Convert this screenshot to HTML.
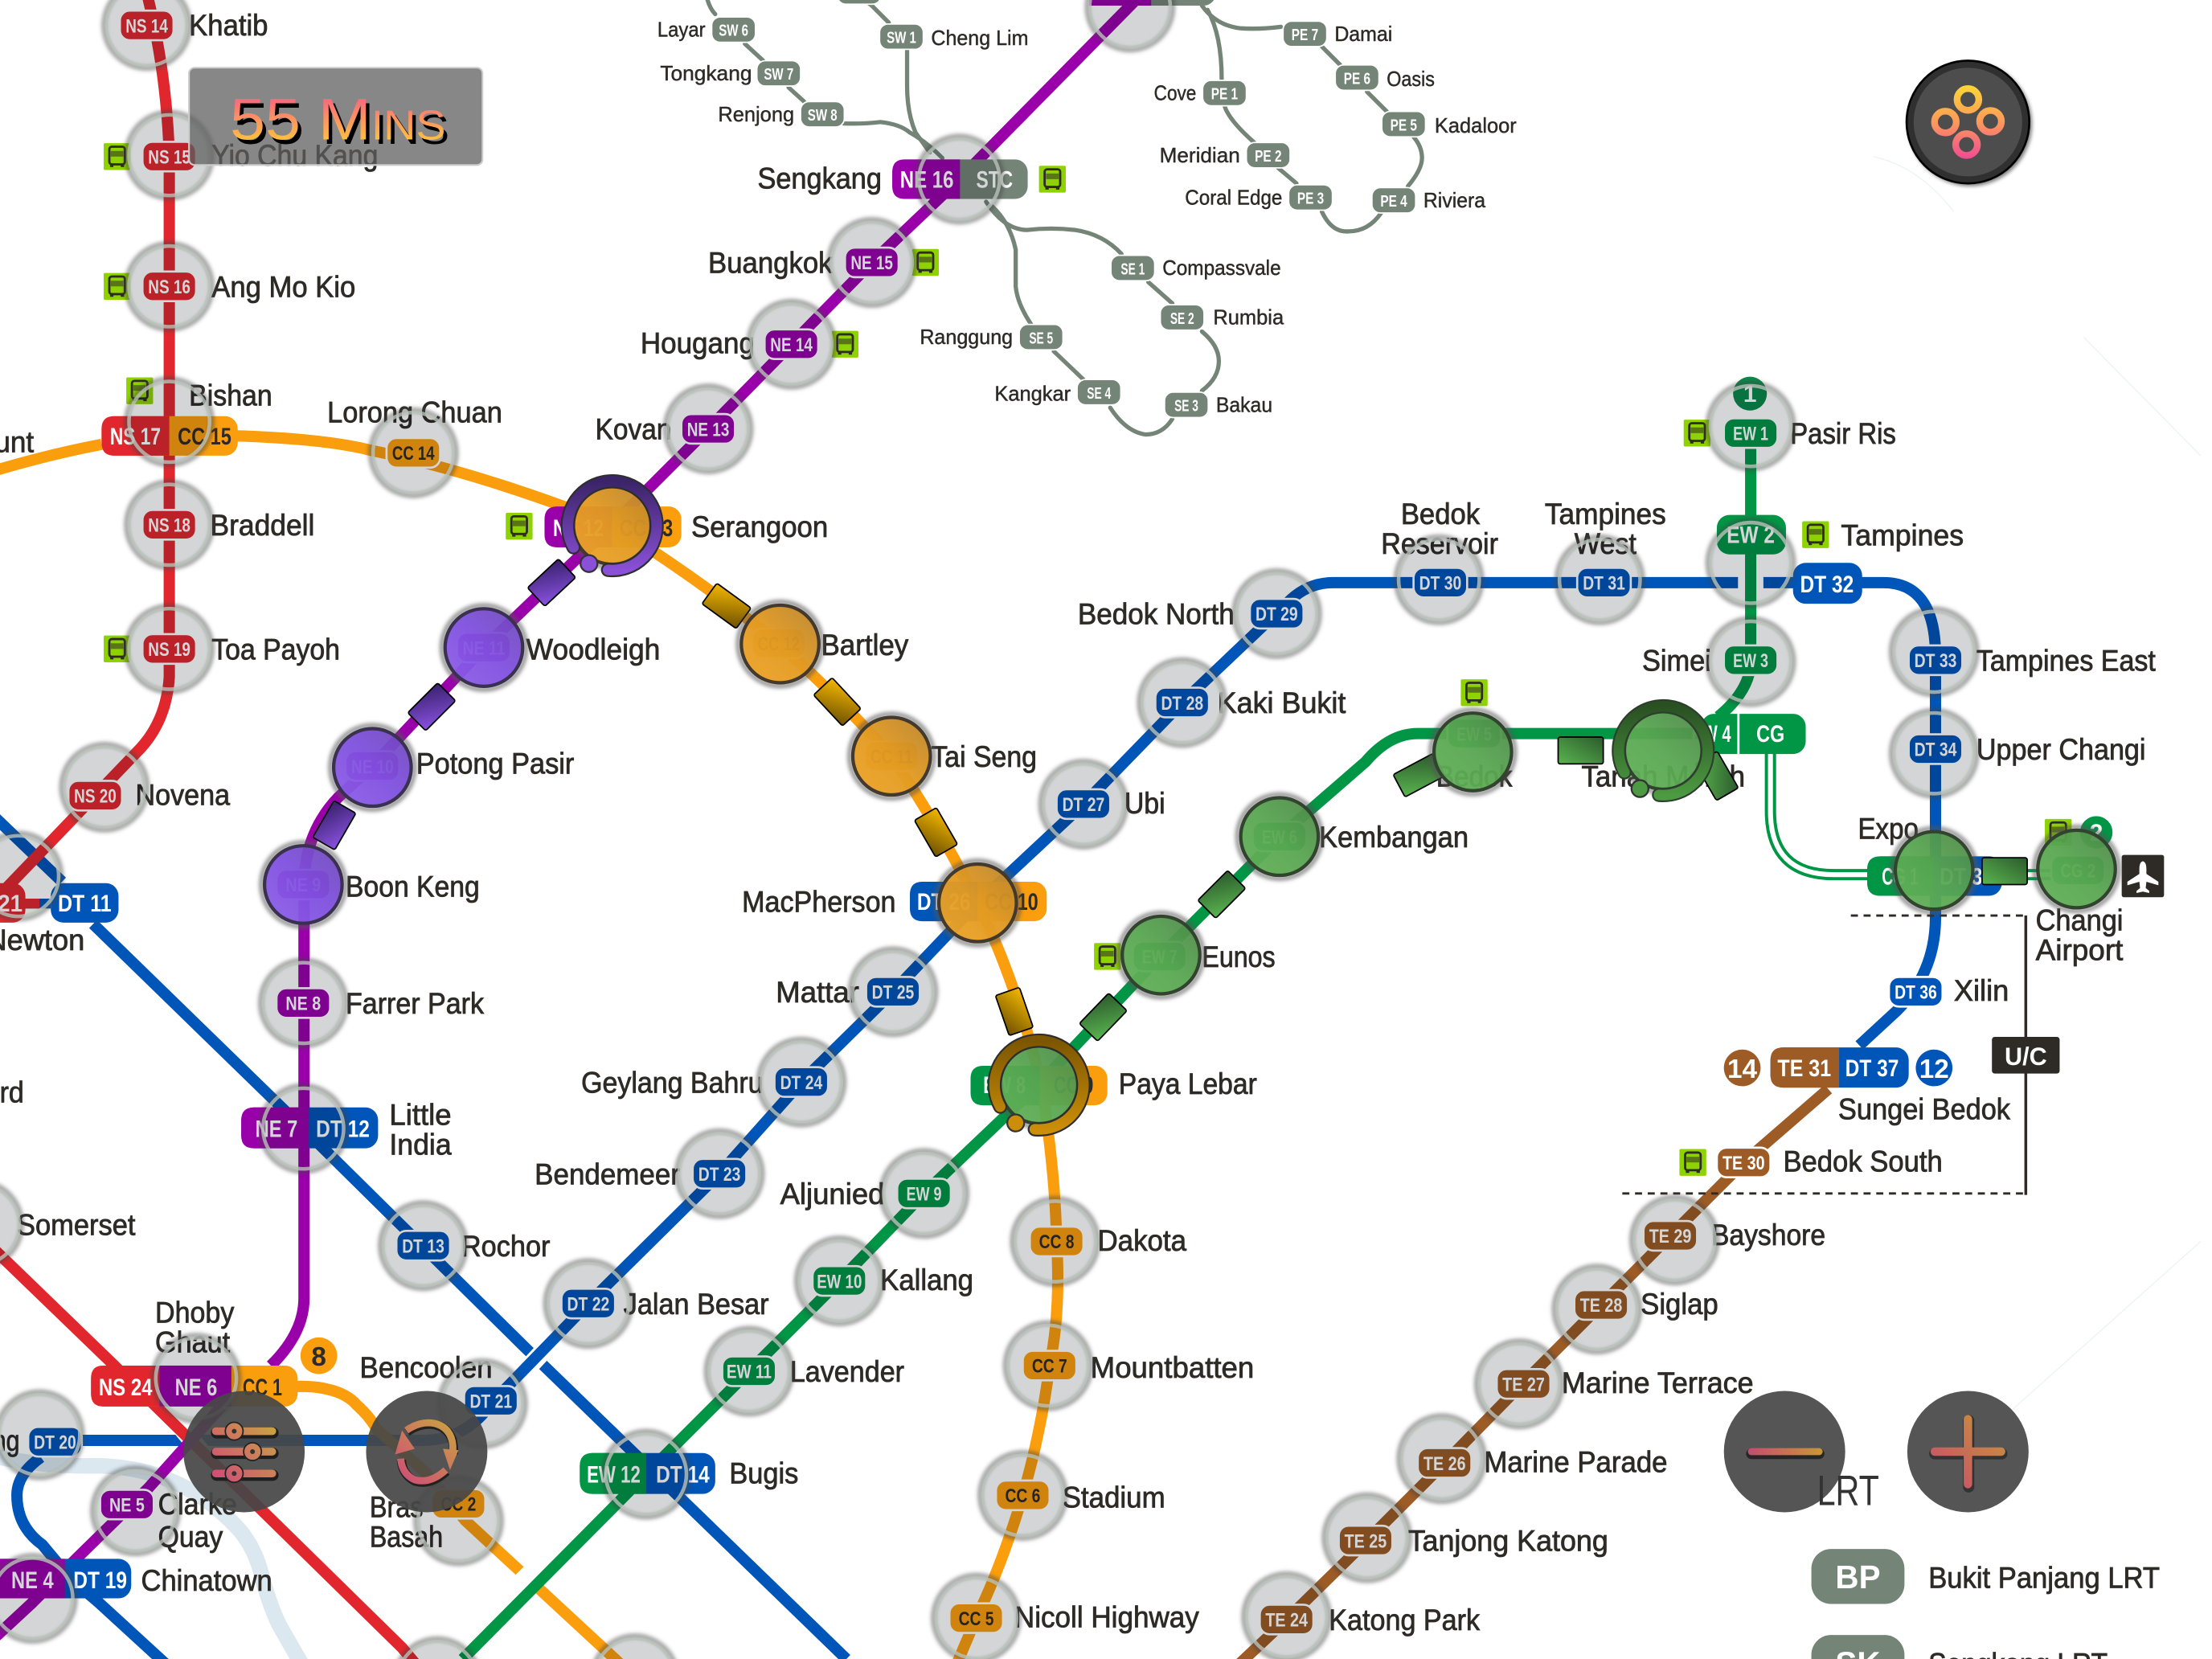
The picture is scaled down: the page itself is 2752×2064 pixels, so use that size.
<!DOCTYPE html>
<html lang="en"><head><meta charset="utf-8"><title>MRT Map</title>
<style>
html,body{margin:0;padding:0;background:#fff;width:2752px;height:2064px;overflow:hidden}
svg{display:block}
text{font-family:"Liberation Sans",sans-serif}
.l{font-size:21px;fill:#2e2a26;stroke:#2e2a26;stroke-width:.45}
.s{font-size:14.5px;fill:#2e2a26;stroke:#2e2a26;stroke-width:.25}
.w{font-size:13.5px;fill:#fff;text-anchor:middle;font-weight:700}
.k{font-size:13.5px;fill:#2e2a26;text-anchor:middle;font-weight:700}
.W{font-size:17px;fill:#fff;text-anchor:middle;font-weight:700}
.K{font-size:17px;fill:#2e2a26;text-anchor:middle;font-weight:700}
.v{font-size:11.5px;fill:#fff;text-anchor:middle;font-weight:700}
.ln{fill:none;stroke-width:8;stroke-linejoin:round}
.lr{fill:none;stroke:#748477;stroke-width:3;stroke-linecap:round}
</style></head><body>
<svg xmlns="http://www.w3.org/2000/svg" width="2752" height="2064" viewBox="0 0 1568 1176">
<defs>
<filter id="b" x="-30%" y="-30%" width="160%" height="160%"><feGaussianBlur stdDeviation="1.3"/></filter>
<linearGradient id="go" x1="0" y1="1" x2="1" y2="0"><stop offset="0" stop-color="#eea528"/><stop offset=".5" stop-color="#e29a22"/><stop offset="1" stop-color="#b98430"/></linearGradient>
<linearGradient id="gp" x1="0" y1="1" x2="1" y2="0"><stop offset="0" stop-color="#8d5fe8"/><stop offset=".5" stop-color="#8050e0"/><stop offset="1" stop-color="#6f4ab8"/></linearGradient>
<linearGradient id="gg" x1="0" y1="1" x2="1" y2="0"><stop offset="0" stop-color="#63b258"/><stop offset=".5" stop-color="#58a651"/><stop offset="1" stop-color="#4f884a"/></linearGradient>
<linearGradient id="rp" x1="0" y1="0" x2="0" y2="1"><stop offset="0" stop-color="#3b2468"/><stop offset="1" stop-color="#8a50d8"/></linearGradient>
<linearGradient id="ry" x1="0" y1="0" x2="0" y2="1"><stop offset="0" stop-color="#7c5600"/><stop offset="1" stop-color="#cc8e08"/></linearGradient>
<linearGradient id="rn" x1="0" y1="0" x2="0" y2="1"><stop offset="0" stop-color="#2a5022"/><stop offset="1" stop-color="#4c9a42"/></linearGradient>
<linearGradient id="to" x1="0" y1="0" x2="1" y2="1"><stop offset="0" stop-color="#f5b900"/><stop offset="1" stop-color="#6e5000"/></linearGradient>
<linearGradient id="tg" x1="0" y1="1" x2="1" y2="0"><stop offset="0" stop-color="#5ab550"/><stop offset="1" stop-color="#2c5a2c"/></linearGradient>
<linearGradient id="tp" x1="0" y1="1" x2="1" y2="0"><stop offset="0" stop-color="#8a52e0"/><stop offset="1" stop-color="#38206c"/></linearGradient>
<linearGradient id="tt" gradientUnits="userSpaceOnUse" x1="0" y1="66" x2="0" y2="100"><stop offset="0" stop-color="#f85c88"/><stop offset="1" stop-color="#ffc23e"/></linearGradient>
<linearGradient id="ic" gradientUnits="userSpaceOnUse" x1="0" y1="60" x2="0" y2="112"><stop offset="0" stop-color="#fdd835"/><stop offset=".5" stop-color="#fd9a5a"/><stop offset="1" stop-color="#f04e90"/></linearGradient>
<linearGradient id="sl" gradientUnits="userSpaceOnUse" x1="150" y1="1050" x2="198" y2="1008"><stop offset="0" stop-color="#d0487a"/><stop offset="1" stop-color="#c8aa40"/></linearGradient>
<linearGradient id="rf" gradientUnits="userSpaceOnUse" x1="282" y1="1052" x2="322" y2="1006"><stop offset="0" stop-color="#cf4a78"/><stop offset="1" stop-color="#c9a540"/></linearGradient>
<linearGradient id="mi" gradientUnits="userSpaceOnUse" x1="1240" y1="0" x2="1290" y2="0"><stop offset="0" stop-color="#c84c6e"/><stop offset="1" stop-color="#c89438"/></linearGradient>
<linearGradient id="pl" gradientUnits="userSpaceOnUse" x1="1372" y1="1052" x2="1418" y2="1006"><stop offset="0" stop-color="#c84c6e"/><stop offset="1" stop-color="#c89438"/></linearGradient>
<rect id="p" x="-19" y="-10.5" width="38" height="21" rx="7" stroke="#fff" stroke-width="1.5"/>
<rect id="q" x="-15.5" y="-9" width="31" height="18" rx="6" stroke="#fff" stroke-width="1"/>
<g id="bus"><rect x="-9.5" y="-9.5" width="19" height="19" rx="1" fill="#8ed200"/><rect x="-5.5" y="-7" width="11" height="12.5" rx="1.8" fill="none" stroke="#2e2a26" stroke-width="1.6"/><rect x="-4.5" y="-4" width="9" height="4" fill="#2e2a26" fill-opacity=".55"/><rect x="-5" y="5.2" width="2.4" height="2.2" fill="#2e2a26"/><rect x="2.6" y="5.2" width="2.4" height="2.2" fill="#2e2a26"/></g>
<g id="c"><circle r="30.5" fill="none" stroke="#444" stroke-opacity=".5" stroke-width="3.2" filter="url(#b)"/><circle r="30" fill="#00050f" fill-opacity=".17"/><circle r="28.6" fill="none" stroke="#bcc5bc" stroke-opacity=".78" stroke-width="2.6"/></g>
<g id="co"><circle r="29.8" fill="none" stroke="#555" stroke-opacity=".6" stroke-width="3.4" filter="url(#b)"/><circle r="27.5" fill="url(#go)" fill-opacity=".96" stroke="#43392c" stroke-width="2.4"/></g>
<g id="cp"><circle r="29.8" fill="none" stroke="#555" stroke-opacity=".6" stroke-width="3.4" filter="url(#b)"/><circle r="27.5" fill="url(#gp)" fill-opacity=".95" stroke="#3a304f" stroke-width="2.4"/></g>
<g id="cg"><circle r="29.8" fill="none" stroke="#555" stroke-opacity=".6" stroke-width="3.4" filter="url(#b)"/><circle r="27.5" fill="url(#gg)" fill-opacity=".95" stroke="#32432f" stroke-width="2.4"/></g>
<path id="arc" d="M-3 31.5A31.5 31.5 0 1 0-27.5 15.5" fill="none" stroke-linecap="round"/>
</defs>

<rect width="1568" height="1176" fill="#fff"/>

<!-- faint background lines -->
<path d="M1328 111Q1360 118 1385 150M1477 239L1560 323M1420 1005L1560 880" fill="none" stroke="#eef4f2" stroke-width=".8"/>

<!-- pale river line -->
<path d="M-5 1032Q30 1040 70 1039Q100 1040 122 1050Q150 1062 171 1086Q182 1100 186 1119Q192 1140 198 1152L214 1180" fill="none" stroke="#dbe8f0" stroke-width="11"/>

<!-- LRT lines -->
<g class="lr">
<path class="lr" d="M598 87.5Q612 88 624 86.5Q638 88 645 94Q656 100 668 112"/>
<path class="lr" d="M643 36V61Q643 80 649 94L659 108"/>
<path class="lr" d="M501 -2Q503 6 507 10M528 31L541 43M559 62L570 72"/>
<path class="lr" d="M630 16L618 4L610 -2"/>
<path class="lr" d="M852 4Q862 18 879 20Q892 21 908 19"/>
<path class="lr" d="M856 7Q866 25 866 56"/>
<path class="lr" d="M868 75Q871 85 889 101M906 119L919 130"/>
<path class="lr" d="M937 150Q944 165 956 164Q970 164 979 151M998 132Q1008 120 1008 112Q1008 104 1002 97M983 79L969 65M950 46L937 33"/>
<path class="lr" d="M699 143Q712 163 728 163Q745 161 762 163Q782 166 795 180M814 200L831 215"/>
<path class="lr" d="M852 235Q864 245 864 256Q864 268 852 277M831 297Q824 308 812 308Q798 306 787 289M768 269L747 249"/>
<path class="lr" d="M731 230Q721 215 720 203V177Q716 158 703 146"/>
</g>

<!-- MRT lines -->
<g class="ln">
<!-- Blue DT -->
<path class="ln" stroke="#0055b8" d="M-5 578L44 625M66 655L215 800L372 955L600 1176"/>
<path d="M396 946L370 974" fill="none" stroke="#fff" stroke-width="13"/>
<path class="ln" stroke="#0055b8" d="M1295 413H945Q928 413 915 425L838 498L768 570L693 640L633 703L568 767L510 832L417 924L349 994Q330 1021 300 1021H28"/>
<path class="ln" stroke="#0055b8" d="M29 1033Q12 1045 12 1060Q12 1082 30 1095L50 1119L70 1136L118 1180"/>
<path class="ln" stroke="#0055b8" d="M1300 413H1335Q1372 413 1372 465V650Q1372 690 1344 717L1318 741"/>
<!-- Red NS -->
<path class="ln" stroke="#e1272d" d="M104 -5Q118 50 120 110V480Q118 510 100 530L4 630"/>
<path d="M127 1010L145 1032" fill="none" stroke="#fff" stroke-width="13"/>
<path class="ln" stroke="#e1272d" d="M-10 880L78 965L285 1168L295 1180"/>
<!-- Orange CC -->
<path class="ln" stroke="#fa9e0d" d="M-5 334Q35 322 72 315M168 309Q230 311 262 319Q340 335 434 372Q495 410 552 456Q595 495 632 536Q665 585 693 640Q720 695 738 768Q748 830 749 880Q752 930 744 968Q738 1015 725 1060Q710 1110 692 1147L678 1180"/>
<path d="M262 1000L276 1018" fill="none" stroke="#fff" stroke-width="13"/>
<path class="ln" stroke="#fa9e0d" d="M205 983Q222 982 233 985Q246 988 253 996Q262 1004 267 1013L302 1044L330 1078L436 1176L445 1185"/>
<!-- Purple NE -->
<path class="ln" stroke="#9900aa" d="M810 -5L680 127L618 186L561 244L502 304L434 372L343 459L264 543L240 565Q216 590 215.5 627V920Q215.5 945 192 968"/>
<path class="ln" stroke="#9900aa" d="M157 997L105 1055L55 1104L23 1136L-5 1162"/>
<!-- Green EW -->
<path d="M1232 413H1250" fill="none" stroke="#fff" stroke-width="11"/>
<path class="ln" stroke="#009645" d="M1241 302V470Q1240 490 1218 508"/>
<path d="M389 1102L361 1130" fill="none" stroke="#fff" stroke-width="13"/>
<path class="ln" stroke="#009645" d="M1210 520H1005Q985 520 968 540L907 593L822 678L737 768L655 846L595 908L531 972L458 1045L328 1176"/>
<!-- Brown TE -->
<path class="ln" stroke="#9d5b25" stroke-width="7" d="M1296 772L1236 824L1184 876L1135 925L1079 981L1024 1037L968 1093L912 1148L878 1180"/>
<!-- CG double -->
<path class="ln" stroke="#009645" d="M1255 530V575Q1255 620 1300 620H1325M1400 620H1475"/>
<path d="M1255 530V575Q1255 620 1300 620H1325M1400 620H1475" fill="none" stroke="#fff" stroke-width="3.5"/>
</g>

<!-- dashed -->
<path d="M1312 649H1436M1150 846H1436" fill="none" stroke="#2e2a26" stroke-width="1.6" stroke-dasharray="5 4"/>
<path d="M1436 649V847" fill="none" stroke="#2e2a26" stroke-width="2"/>
<rect x="1412" y="735" width="48" height="26" rx="2" fill="#2e2a26"/>
<text x="1436" y="755" style="font-size:18px;fill:#fff;text-anchor:middle;font-weight:700" textLength="30" lengthAdjust="spacingAndGlyphs">U/C</text>

<!-- Bus icons -->
<use href="#bus" x="83" y="111"/><use href="#bus" x="83" y="203"/><use href="#bus" x="99" y="277"/><use href="#bus" x="368" y="373"/><use href="#bus" x="83" y="460"/><use href="#bus" x="746" y="127"/><use href="#bus" x="656" y="186"/><use href="#bus" x="599" y="244"/><use href="#bus" x="1045" y="491"/><use href="#bus" x="785" y="678"/><use href="#bus" x="1203" y="307"/><use href="#bus" x="1287" y="379"/><use href="#bus" x="1200" y="824"/><use href="#bus" x="1459" y="590"/>

<!-- Number circles -->
<circle cx="1240.5" cy="279" r="12" fill="#0a8a4a"/><text x="1240.5" y="285" class="W">1</text>
<circle cx="226" cy="961" r="13" fill="#fa9e0d"/><text x="226" y="968" class="K" style="font-size:19px">8</text>
<circle cx="1235" cy="757" r="13" fill="#9d5b25"/><text x="1235" y="764" class="W" style="font-size:19px">14</text>
<circle cx="1371" cy="757" r="13" fill="#0055b8"/><text x="1371" y="764" class="W" style="font-size:19px">12</text>
<circle cx="1486" cy="590" r="11.5" fill="#009645"/><text x="1486" y="596" class="W">2</text>
<rect x="1504" y="606" width="30" height="30" rx="1.5" fill="#2e2a26"/>
<path d="M1519 610.5Q1521.5 611 1521.5 616V619.5L1530 625V627.5L1521.5 625L1521 629.5L1523.5 631.5V633L1519 632L1514.5 633V631.5L1517 629.5L1516.5 625L1508 627.5V625L1516.5 619.5V616Q1516.5 611 1519 610.5Z" fill="#fff"/>

<!-- LRT pills -->
<g fill="#748477">
<use href="#q" x="520" y="21"/><use href="#q" x="552" y="52"/><use href="#q" x="583" y="81"/><use href="#q" x="639" y="26"/><use href="#q" x="609" y="-6"/>
<use href="#q" x="925" y="24"/><use href="#q" x="962" y="55"/><use href="#q" x="995" y="88"/><use href="#q" x="868" y="66"/><use href="#q" x="899" y="110"/><use href="#q" x="929" y="140"/><use href="#q" x="988" y="142"/>
<use href="#q" x="803" y="190"/><use href="#q" x="838" y="225"/><use href="#q" x="841" y="287"/><use href="#q" x="779" y="278"/><use href="#q" x="738" y="239"/>
</g>
<g>
<text class="v" x="520" y="25.5" textLength="21" lengthAdjust="spacingAndGlyphs">SW 6</text>
<text class="v" x="552" y="56.5" textLength="21" lengthAdjust="spacingAndGlyphs">SW 7</text>
<text class="v" x="583" y="85.5" textLength="21" lengthAdjust="spacingAndGlyphs">SW 8</text>
<text class="v" x="639" y="30.5" textLength="21" lengthAdjust="spacingAndGlyphs">SW 1</text>
<text class="v" x="925" y="28.5" textLength="19" lengthAdjust="spacingAndGlyphs">PE 7</text>
<text class="v" x="962" y="59.5" textLength="19" lengthAdjust="spacingAndGlyphs">PE 6</text>
<text class="v" x="995" y="92.5" textLength="19" lengthAdjust="spacingAndGlyphs">PE 5</text>
<text class="v" x="868" y="70.5" textLength="19" lengthAdjust="spacingAndGlyphs">PE 1</text>
<text class="v" x="899" y="114.5" textLength="19" lengthAdjust="spacingAndGlyphs">PE 2</text>
<text class="v" x="929" y="144.5" textLength="19" lengthAdjust="spacingAndGlyphs">PE 3</text>
<text class="v" x="988" y="146.5" textLength="19" lengthAdjust="spacingAndGlyphs">PE 4</text>
<text class="v" x="803" y="194.5" textLength="17" lengthAdjust="spacingAndGlyphs">SE 1</text>
<text class="v" x="838" y="229.5" textLength="17" lengthAdjust="spacingAndGlyphs">SE 2</text>
<text class="v" x="841" y="291.5" textLength="17" lengthAdjust="spacingAndGlyphs">SE 3</text>
<text class="v" x="779" y="282.5" textLength="17" lengthAdjust="spacingAndGlyphs">SE 4</text>
<text class="v" x="738" y="243.5" textLength="17" lengthAdjust="spacingAndGlyphs">SE 5</text>
</g>
<g>
<text class="s" x="466" y="26" textLength="34" lengthAdjust="spacingAndGlyphs">Layar</text>
<text class="s" x="468" y="57" textLength="65" lengthAdjust="spacingAndGlyphs">Tongkang</text>
<text class="s" x="509" y="86" textLength="54" lengthAdjust="spacingAndGlyphs">Renjong</text>
<text class="s" x="660" y="32" textLength="69" lengthAdjust="spacingAndGlyphs">Cheng Lim</text>
<text class="s" x="946" y="29" textLength="41" lengthAdjust="spacingAndGlyphs">Damai</text>
<text class="s" x="983" y="61" textLength="34" lengthAdjust="spacingAndGlyphs">Oasis</text>
<text class="s" x="1017" y="94" textLength="58" lengthAdjust="spacingAndGlyphs">Kadaloor</text>
<text class="s" x="818" y="71" textLength="30" lengthAdjust="spacingAndGlyphs">Cove</text>
<text class="s" x="822" y="115" textLength="57" lengthAdjust="spacingAndGlyphs">Meridian</text>
<text class="s" x="840" y="145" textLength="69" lengthAdjust="spacingAndGlyphs">Coral Edge</text>
<text class="s" x="1009" y="147" textLength="44" lengthAdjust="spacingAndGlyphs">Riviera</text>
<text class="s" x="824" y="195" textLength="84" lengthAdjust="spacingAndGlyphs">Compassvale</text>
<text class="s" x="860" y="230" textLength="50" lengthAdjust="spacingAndGlyphs">Rumbia</text>
<text class="s" x="652" y="244" textLength="66" lengthAdjust="spacingAndGlyphs">Ranggung</text>
<text class="s" x="705" y="284" textLength="54" lengthAdjust="spacingAndGlyphs">Kangkar</text>
<text class="s" x="862" y="292" textLength="40" lengthAdjust="spacingAndGlyphs">Bakau</text>
</g>

<!-- Single pills -->
<g fill="#e1272d"><use href="#p" x="104" y="18"/><use href="#p" x="120" y="111"/><use href="#p" x="120" y="203"/><use href="#p" x="120" y="372"/><use href="#p" x="120" y="460"/><use href="#p" x="67.5" y="564"/></g>
<g fill="#9900aa"><use href="#p" x="502" y="304"/><use href="#p" x="618" y="186"/><use href="#p" x="561" y="244"/><use href="#p" x="215" y="711"/><use href="#p" x="343" y="459"/><use href="#p" x="264" y="543"/><use href="#p" x="215" y="627"/><use href="#p" x="90" y="1066.5"/></g>
<g fill="#0055b8"><use href="#p" x="300" y="883"/><use href="#p" x="417" y="924"/><use href="#p" x="348" y="993"/><use href="#p" x="510" y="832"/><use href="#p" x="568" y="767"/><use href="#p" x="633" y="703"/><use href="#p" x="768" y="570"/><use href="#p" x="838" y="498"/><use href="#p" x="905" y="435"/><use href="#p" x="1021" y="413"/><use href="#p" x="1137" y="413"/><use href="#p" x="1372" y="468"/><use href="#p" x="1372" y="531"/><use href="#p" x="1358" y="703"/><use href="#p" x="39" y="1022"/></g>
<g fill="#fa9e0d"><use href="#p" x="293" y="321"/><use href="#p" x="552" y="456"/><use href="#p" x="632" y="536"/><use href="#p" x="749" y="880"/><use href="#p" x="744" y="968"/><use href="#p" x="725" y="1060"/><use href="#p" x="692" y="1147"/><use href="#p" x="325" y="1066"/></g>
<g fill="#009645"><use href="#p" x="1241" y="307"/><use href="#p" x="1241" y="468"/><use href="#p" x="1045" y="520"/><use href="#p" x="907" y="593"/><use href="#p" x="822" y="678"/><use href="#p" x="655" y="846"/><use href="#p" x="595" y="908"/><use href="#p" x="531" y="972"/><use href="#p" x="1473" y="617"/></g>
<g fill="#9d5b25"><use href="#p" x="1236" y="824"/><use href="#p" x="1184" y="876"/><use href="#p" x="1135" y="925"/><use href="#p" x="1080" y="981"/><use href="#p" x="1024" y="1037"/><use href="#p" x="968" y="1092"/><use href="#p" x="912" y="1148"/></g>

<g>
<text class="w" x="104" y="23" textLength="30" lengthAdjust="spacingAndGlyphs">NS 14</text>
<text class="w" x="120" y="116" textLength="30" lengthAdjust="spacingAndGlyphs">NS 15</text>
<text class="w" x="120" y="208" textLength="30" lengthAdjust="spacingAndGlyphs">NS 16</text>
<text class="w" x="120" y="377" textLength="30" lengthAdjust="spacingAndGlyphs">NS 18</text>
<text class="w" x="120" y="465" textLength="30" lengthAdjust="spacingAndGlyphs">NS 19</text>
<text class="w" x="67.5" y="569" textLength="30" lengthAdjust="spacingAndGlyphs">NS 20</text>
<text class="w" x="502" y="309" textLength="30" lengthAdjust="spacingAndGlyphs">NE 13</text>
<text class="w" x="618" y="191" textLength="30" lengthAdjust="spacingAndGlyphs">NE 15</text>
<text class="w" x="561" y="249" textLength="30" lengthAdjust="spacingAndGlyphs">NE 14</text>
<text class="w" x="215" y="716" textLength="25" lengthAdjust="spacingAndGlyphs">NE 8</text>
<text class="w" x="343" y="464" textLength="30" lengthAdjust="spacingAndGlyphs">NE 11</text>
<text class="w" x="264" y="548" textLength="30" lengthAdjust="spacingAndGlyphs">NE 10</text>
<text class="w" x="215" y="632" textLength="25" lengthAdjust="spacingAndGlyphs">NE 9</text>
<text class="w" x="90" y="1071.5" textLength="25" lengthAdjust="spacingAndGlyphs">NE 5</text>
<text class="w" x="300" y="888" textLength="30" lengthAdjust="spacingAndGlyphs">DT 13</text>
<text class="w" x="417" y="929" textLength="30" lengthAdjust="spacingAndGlyphs">DT 22</text>
<text class="w" x="348" y="998" textLength="30" lengthAdjust="spacingAndGlyphs">DT 21</text>
<text class="w" x="510" y="837" textLength="30" lengthAdjust="spacingAndGlyphs">DT 23</text>
<text class="w" x="568" y="772" textLength="30" lengthAdjust="spacingAndGlyphs">DT 24</text>
<text class="w" x="633" y="708" textLength="30" lengthAdjust="spacingAndGlyphs">DT 25</text>
<text class="w" x="768" y="575" textLength="30" lengthAdjust="spacingAndGlyphs">DT 27</text>
<text class="w" x="838" y="503" textLength="30" lengthAdjust="spacingAndGlyphs">DT 28</text>
<text class="w" x="905" y="440" textLength="30" lengthAdjust="spacingAndGlyphs">DT 29</text>
<text class="w" x="1021" y="418" textLength="30" lengthAdjust="spacingAndGlyphs">DT 30</text>
<text class="w" x="1137" y="418" textLength="30" lengthAdjust="spacingAndGlyphs">DT 31</text>
<text class="w" x="1372" y="473" textLength="30" lengthAdjust="spacingAndGlyphs">DT 33</text>
<text class="w" x="1372" y="536" textLength="30" lengthAdjust="spacingAndGlyphs">DT 34</text>
<text class="w" x="1358" y="708" textLength="30" lengthAdjust="spacingAndGlyphs">DT 36</text>
<text class="w" x="39" y="1027" textLength="30" lengthAdjust="spacingAndGlyphs">DT 20</text>
<text class="k" x="293" y="326" textLength="30" lengthAdjust="spacingAndGlyphs">CC 14</text>
<text class="k" x="552" y="461" textLength="30" lengthAdjust="spacingAndGlyphs">CC 12</text>
<text class="k" x="632" y="541" textLength="30" lengthAdjust="spacingAndGlyphs">CC 11</text>
<text class="k" x="749" y="885" textLength="25" lengthAdjust="spacingAndGlyphs">CC 8</text>
<text class="k" x="744" y="973" textLength="25" lengthAdjust="spacingAndGlyphs">CC 7</text>
<text class="k" x="725" y="1065" textLength="25" lengthAdjust="spacingAndGlyphs">CC 6</text>
<text class="k" x="692" y="1152" textLength="25" lengthAdjust="spacingAndGlyphs">CC 5</text>
<text class="k" x="325" y="1071" textLength="25" lengthAdjust="spacingAndGlyphs">CC 2</text>
<text class="w" x="1241" y="312" textLength="25" lengthAdjust="spacingAndGlyphs">EW 1</text>
<text class="w" x="1241" y="473" textLength="25" lengthAdjust="spacingAndGlyphs">EW 3</text>
<text class="w" x="1045" y="525" textLength="25" lengthAdjust="spacingAndGlyphs">EW 5</text>
<text class="w" x="907" y="598" textLength="25" lengthAdjust="spacingAndGlyphs">EW 6</text>
<text class="w" x="822" y="683" textLength="25" lengthAdjust="spacingAndGlyphs">EW 7</text>
<text class="w" x="655" y="851" textLength="25" lengthAdjust="spacingAndGlyphs">EW 9</text>
<text class="w" x="595" y="913" textLength="32" lengthAdjust="spacingAndGlyphs">EW 10</text>
<text class="w" x="531" y="977" textLength="32" lengthAdjust="spacingAndGlyphs">EW 11</text>
<text class="w" x="1473" y="622" textLength="25" lengthAdjust="spacingAndGlyphs">CG 2</text>
<text class="w" x="1236" y="829" textLength="30" lengthAdjust="spacingAndGlyphs">TE 30</text>
<text class="w" x="1184" y="881" textLength="30" lengthAdjust="spacingAndGlyphs">TE 29</text>
<text class="w" x="1135" y="930" textLength="30" lengthAdjust="spacingAndGlyphs">TE 28</text>
<text class="w" x="1080" y="986" textLength="30" lengthAdjust="spacingAndGlyphs">TE 27</text>
<text class="w" x="1024" y="1042" textLength="30" lengthAdjust="spacingAndGlyphs">TE 26</text>
<text class="w" x="968" y="1097" textLength="30" lengthAdjust="spacingAndGlyphs">TE 25</text>
<text class="w" x="912" y="1153" textLength="30" lengthAdjust="spacingAndGlyphs">TE 24</text>
</g>

<!-- Double pills -->
<g stroke="#fff" stroke-width="0">
<rect x="72" y="295" width="96.5" height="28" rx="9" fill="#fa9e0d"/><path d="M81 295H120V323H81Q72 323 72 314V304Q72 295 81 295Z" fill="#e1272d"/>
<rect x="386" y="359" width="97" height="29" rx="9" fill="#fa9e0d"/><path d="M395 359H434V388H395Q386 388 386 379V368Q386 359 395 359Z" fill="#9900aa"/>
<rect x="632.5" y="113" width="96" height="28" rx="9" fill="#748477"/><path d="M641 113H680.5V141H641Q632.5 141 632.5 132V122Q632.5 113 641 113Z" fill="#9900aa"/>
<rect x="772" y="-24" width="90" height="28" rx="9" fill="#748477"/><rect x="772" y="-24" width="44" height="28" fill="#9900aa"/>
<rect x="645" y="625" width="97" height="28" rx="9" fill="#fa9e0d"/><path d="M654 625H693V653H654Q645 653 645 644V634Q645 625 654 625Z" fill="#0055b8"/>
<rect x="688" y="755.5" width="97" height="28" rx="9" fill="#fa9e0d"/><path d="M697 755.5H737V783.5H697Q688 783.5 688 774.5V764.5Q688 755.5 697 755.5Z" fill="#009645"/>
<rect x="171" y="785" width="97" height="29" rx="9" fill="#0055b8"/><path d="M180 785H219V814H180Q171 814 171 805V794Q171 785 180 785Z" fill="#9900aa"/>
<rect x="64.5" y="968" width="146.5" height="29" rx="9" fill="#fa9e0d"/><path d="M73 968H113V997H73Q64.5 997 64.5 988V977Q64.5 968 73 968Z" fill="#e1272d"/><rect x="113" y="968" width="51" height="29" fill="#9900aa"/>
<rect x="411" y="1030" width="96" height="29" rx="9" fill="#0055b8"/><path d="M420 1030H458V1059H420Q411 1059 411 1050V1039Q411 1030 420 1030Z" fill="#009645"/>
<rect x="-50" y="1105" width="143" height="28" rx="9" fill="#0055b8"/><rect x="-50" y="1105" width="96" height="28" fill="#9900aa"/>
<rect x="36" y="626" width="48" height="28" rx="9" fill="#0055b8"/>
<rect x="18" y="637" width="18" height="7" fill="#0055b8"/><rect x="18" y="637" width="10" height="7" fill="#e1272d"/>
<rect x="-30" y="626" width="48" height="28" rx="9" fill="#e1272d"/>
<rect x="1217" y="365" width="49" height="28" rx="9" fill="#009645"/>
<rect x="1271" y="399" width="49" height="29" rx="9" fill="#0055b8"/>
<rect x="1206" y="506" width="74" height="28.5" rx="9" fill="#009645"/><rect x="1231.5" y="506" width="1.6" height="28.5" fill="#fff"/>
<rect x="1323.6" y="607" width="95.4" height="28" rx="9" fill="#0055b8"/><path d="M1333 607H1371V635H1333Q1323.6 635 1323.6 626V616Q1323.6 607 1333 607Z" fill="#009645"/>
<rect x="1255" y="742.5" width="98" height="28.5" rx="9" fill="#0055b8"/><path d="M1264 742.5H1303.7V771H1264Q1255 771 1255 762V751.5Q1255 742.5 1264 742.5Z" fill="#9d5b25"/>
</g>
<g>
<text class="W" x="96" y="315" textLength="36" lengthAdjust="spacingAndGlyphs">NS 17</text>
<text class="K" x="145" y="315" textLength="38" lengthAdjust="spacingAndGlyphs">CC 15</text>
<text class="W" x="410" y="380" textLength="36" lengthAdjust="spacingAndGlyphs">NE 12</text>
<text class="K" x="458" y="380" textLength="38" lengthAdjust="spacingAndGlyphs">CC 13</text>
<text class="W" x="657" y="133" textLength="38" lengthAdjust="spacingAndGlyphs">NE 16</text>
<text class="W" x="705" y="133" textLength="26" lengthAdjust="spacingAndGlyphs">STC</text>
<text class="W" x="669" y="645" textLength="38" lengthAdjust="spacingAndGlyphs">DT 26</text>
<text class="K" x="717" y="645" textLength="38" lengthAdjust="spacingAndGlyphs">CC 10</text>
<text class="W" x="712" y="775" textLength="30" lengthAdjust="spacingAndGlyphs">EW 8</text>
<text class="K" x="761" y="775" textLength="28" lengthAdjust="spacingAndGlyphs">CC 9</text>
<text class="W" x="196" y="806" textLength="30" lengthAdjust="spacingAndGlyphs">NE 7</text>
<text class="W" x="243" y="806" textLength="38" lengthAdjust="spacingAndGlyphs">DT 12</text>
<text class="W" x="89" y="989" textLength="38" lengthAdjust="spacingAndGlyphs">NS 24</text>
<text class="W" x="139" y="989" textLength="30" lengthAdjust="spacingAndGlyphs">NE 6</text>
<text class="K" x="186" y="989" textLength="28" lengthAdjust="spacingAndGlyphs">CC 1</text>
<text class="W" x="435" y="1051" textLength="38" lengthAdjust="spacingAndGlyphs">EW 12</text>
<text class="W" x="484" y="1051" textLength="38" lengthAdjust="spacingAndGlyphs">DT 14</text>
<text class="W" x="23" y="1126" textLength="30" lengthAdjust="spacingAndGlyphs">NE 4</text>
<text class="W" x="71" y="1126" textLength="38" lengthAdjust="spacingAndGlyphs">DT 19</text>
<text class="W" x="60" y="646" textLength="38" lengthAdjust="spacingAndGlyphs">DT 11</text>
<text class="W" x="-6" y="646" textLength="44" lengthAdjust="spacingAndGlyphs">NS 21</text>
<text class="W" x="1241" y="385" textLength="34" lengthAdjust="spacingAndGlyphs">EW 2</text>
<text class="W" x="1295" y="420" textLength="38" lengthAdjust="spacingAndGlyphs">DT 32</text>
<text class="W" x="1213" y="526" textLength="28" lengthAdjust="spacingAndGlyphs">EW 4</text>
<text class="W" x="1255" y="526" textLength="20" lengthAdjust="spacingAndGlyphs">CG</text>
<text class="W" x="1347" y="627" textLength="26" lengthAdjust="spacingAndGlyphs">CG 1</text>
<text class="W" x="1394" y="627" textLength="38" lengthAdjust="spacingAndGlyphs">DT 35</text>
<text class="W" x="1279" y="763" textLength="38" lengthAdjust="spacingAndGlyphs">TE 31</text>
<text class="W" x="1327" y="763" textLength="38" lengthAdjust="spacingAndGlyphs">DT 37</text>
</g>

<!-- Labels -->
<g transform="translate(0 .5)">
<text class="l" x="134" y="24.5" textLength="56" lengthAdjust="spacingAndGlyphs">Khatib</text>
<text class="l" x="150" y="117" textLength="118" lengthAdjust="spacingAndGlyphs">Yio Chu Kang</text>
<text class="l" x="150" y="210" textLength="102" lengthAdjust="spacingAndGlyphs">Ang Mo Kio</text>
<text class="l" x="134" y="287" textLength="59" lengthAdjust="spacingAndGlyphs">Bishan</text>
<text class="l" x="24" y="320" text-anchor="end" textLength="100" lengthAdjust="spacingAndGlyphs">Marymount</text>
<text class="l" x="232" y="299" textLength="124" lengthAdjust="spacingAndGlyphs">Lorong Chuan</text>
<text class="l" x="149" y="379" textLength="74" lengthAdjust="spacingAndGlyphs">Braddell</text>
<text class="l" x="150" y="467" textLength="91" lengthAdjust="spacingAndGlyphs">Toa Payoh</text>
<text class="l" x="96" y="570" textLength="67" lengthAdjust="spacingAndGlyphs">Novena</text>
<text class="l" x="60" y="673" text-anchor="end" textLength="70" lengthAdjust="spacingAndGlyphs">Newton</text>
<text class="l" x="17" y="781" text-anchor="end" textLength="70" lengthAdjust="spacingAndGlyphs">Orchard</text>
<text class="l" x="422" y="311" textLength="54" lengthAdjust="spacingAndGlyphs">Kovan</text>
<text class="l" x="490" y="380" textLength="97" lengthAdjust="spacingAndGlyphs">Serangoon</text>
<text class="l" x="454" y="250" textLength="81" lengthAdjust="spacingAndGlyphs">Hougang</text>
<text class="l" x="502" y="193" textLength="88" lengthAdjust="spacingAndGlyphs">Buangkok</text>
<text class="l" x="537" y="133" textLength="88" lengthAdjust="spacingAndGlyphs">Sengkang</text>
<text class="l" x="373" y="467" textLength="95" lengthAdjust="spacingAndGlyphs">Woodleigh</text>
<text class="l" x="582" y="464" textLength="62" lengthAdjust="spacingAndGlyphs">Bartley</text>
<text class="l" x="660" y="543" textLength="75" lengthAdjust="spacingAndGlyphs">Tai Seng</text>
<text class="l" x="295" y="548" textLength="112" lengthAdjust="spacingAndGlyphs">Potong Pasir</text>
<text class="l" x="245" y="635" textLength="95" lengthAdjust="spacingAndGlyphs">Boon Keng</text>
<text class="l" x="526" y="646" textLength="109" lengthAdjust="spacingAndGlyphs">MacPherson</text>
<text class="l" x="245" y="718" textLength="98" lengthAdjust="spacingAndGlyphs">Farrer Park</text>
<text class="l" x="276" y="797" textLength="44" lengthAdjust="spacingAndGlyphs">Little</text>
<text class="l" x="276" y="818" textLength="44" lengthAdjust="spacingAndGlyphs">India</text>
<text class="l" x="550" y="710" textLength="59" lengthAdjust="spacingAndGlyphs">Mattar</text>
<text class="l" x="412" y="774" textLength="129" lengthAdjust="spacingAndGlyphs">Geylang Bahru</text>
<text class="l" x="379" y="839" textLength="103" lengthAdjust="spacingAndGlyphs">Bendemeer</text>
<text class="l" x="553" y="853" textLength="74" lengthAdjust="spacingAndGlyphs">Aljunied</text>
<text class="l" x="624" y="914" textLength="66" lengthAdjust="spacingAndGlyphs">Kallang</text>
<text class="l" x="560" y="979" textLength="81" lengthAdjust="spacingAndGlyphs">Lavender</text>
<text class="l" x="517" y="1051" textLength="49" lengthAdjust="spacingAndGlyphs">Bugis</text>
<text class="l" x="442" y="931" textLength="103" lengthAdjust="spacingAndGlyphs">Jalan Besar</text>
<text class="l" x="327" y="890" textLength="63" lengthAdjust="spacingAndGlyphs">Rochor</text>
<text class="l" x="255" y="976" textLength="94" lengthAdjust="spacingAndGlyphs">Bencoolen</text>
<text class="l" x="110" y="937" textLength="56" lengthAdjust="spacingAndGlyphs">Dhoby</text>
<text class="l" x="110" y="958" textLength="53" lengthAdjust="spacingAndGlyphs">Ghaut</text>
<text class="l" x="12" y="875" textLength="84" lengthAdjust="spacingAndGlyphs">Somerset</text>
<text class="l" x="14" y="1028" text-anchor="end" textLength="100" lengthAdjust="spacingAndGlyphs">Fort Canning</text>
<text class="l" x="112" y="1073" textLength="56" lengthAdjust="spacingAndGlyphs">Clarke</text>
<text class="l" x="112" y="1096" textLength="46" lengthAdjust="spacingAndGlyphs">Quay</text>
<text class="l" x="100" y="1127" textLength="93" lengthAdjust="spacingAndGlyphs">Chinatown</text>
<text class="l" x="262" y="1075" textLength="38" lengthAdjust="spacingAndGlyphs">Bras</text>
<text class="l" x="262" y="1096" textLength="52" lengthAdjust="spacingAndGlyphs">Basah</text>
<text class="l" x="793" y="775" textLength="98" lengthAdjust="spacingAndGlyphs">Paya Lebar</text>
<text class="l" x="797" y="576" textLength="29" lengthAdjust="spacingAndGlyphs">Ubi</text>
<text class="l" x="863" y="505" textLength="91" lengthAdjust="spacingAndGlyphs">Kaki Bukit</text>
<text class="l" x="764" y="442" textLength="111" lengthAdjust="spacingAndGlyphs">Bedok North</text>
<text class="l" x="993" y="371" textLength="56" lengthAdjust="spacingAndGlyphs">Bedok</text>
<text class="l" x="979" y="392" textLength="83" lengthAdjust="spacingAndGlyphs">Reservoir</text>
<text class="l" x="1095" y="371" textLength="86" lengthAdjust="spacingAndGlyphs">Tampines</text>
<text class="l" x="1116" y="392" textLength="44" lengthAdjust="spacingAndGlyphs">West</text>
<text class="l" x="1164" y="475" textLength="49" lengthAdjust="spacingAndGlyphs">Simei</text>
<text class="l" x="1269" y="314" textLength="75" lengthAdjust="spacingAndGlyphs">Pasir Ris</text>
<text class="l" x="1305" y="386" textLength="87" lengthAdjust="spacingAndGlyphs">Tampines</text>
<text class="l" x="1401" y="475" textLength="127" lengthAdjust="spacingAndGlyphs">Tampines East</text>
<text class="l" x="1401" y="538" textLength="120" lengthAdjust="spacingAndGlyphs">Upper Changi</text>
<text class="l" x="1317" y="594" textLength="43" lengthAdjust="spacingAndGlyphs">Expo</text>
<text class="l" x="1443" y="659" textLength="62" lengthAdjust="spacingAndGlyphs">Changi</text>
<text class="l" x="1443" y="680" textLength="62" lengthAdjust="spacingAndGlyphs">Airport</text>
<text class="l" x="1385" y="709" textLength="39" lengthAdjust="spacingAndGlyphs">Xilin</text>
<text class="l" x="1303" y="793" textLength="122" lengthAdjust="spacingAndGlyphs">Sungei Bedok</text>
<text class="l" x="1264" y="830" textLength="113" lengthAdjust="spacingAndGlyphs">Bedok South</text>
<text class="l" x="1213" y="882" textLength="81" lengthAdjust="spacingAndGlyphs">Bayshore</text>
<text class="l" x="1163" y="931" textLength="55" lengthAdjust="spacingAndGlyphs">Siglap</text>
<text class="l" x="1107" y="987" textLength="136" lengthAdjust="spacingAndGlyphs">Marine Terrace</text>
<text class="l" x="1052" y="1043" textLength="130" lengthAdjust="spacingAndGlyphs">Marine Parade</text>
<text class="l" x="998" y="1099" textLength="142" lengthAdjust="spacingAndGlyphs">Tanjong Katong</text>
<text class="l" x="942" y="1155" textLength="107" lengthAdjust="spacingAndGlyphs">Katong Park</text>
<text class="l" x="719" y="1153" textLength="131" lengthAdjust="spacingAndGlyphs">Nicoll Highway</text>
<text class="l" x="753" y="1068" textLength="73" lengthAdjust="spacingAndGlyphs">Stadium</text>
<text class="l" x="773" y="976" textLength="116" lengthAdjust="spacingAndGlyphs">Mountbatten</text>
<text class="l" x="778" y="886" textLength="63" lengthAdjust="spacingAndGlyphs">Dakota</text>
<text class="l" x="935" y="600" textLength="106" lengthAdjust="spacingAndGlyphs">Kembangan</text>
<text class="l" x="852" y="685" textLength="52" lengthAdjust="spacingAndGlyphs">Eunos</text>
<text class="l" x="1018" y="557" textLength="54" lengthAdjust="spacingAndGlyphs">Bedok</text>
<text class="l" x="1121" y="557" textLength="116" lengthAdjust="spacingAndGlyphs">Tanah Merah</text>
<text class="l" x="1367" y="1125" textLength="164" lengthAdjust="spacingAndGlyphs">Bukit Panjang LRT</text>
<text class="l" x="1367" y="1186" textLength="127" lengthAdjust="spacingAndGlyphs">Sengkang LRT</text>
</g>

<!-- Legend pills -->
<rect x="1284" y="1098" width="66" height="39" rx="14" fill="#748477"/>
<text x="1317" y="1126" style="font-size:23px;fill:#fff;text-anchor:middle;font-weight:700">BP</text>
<rect x="1284" y="1159" width="66" height="39" rx="14" fill="#748477"/>
<text x="1317" y="1187" style="font-size:23px;fill:#fff;text-anchor:middle;font-weight:700">SK</text>

<!-- Gray station circles -->
<use href="#c" x="104" y="18"/><use href="#c" x="120" y="110"/><use href="#c" x="120" y="203"/><use href="#c" x="120" y="299"/><use href="#c" x="293" y="321"/><use href="#c" x="120" y="372"/><use href="#c" x="120" y="460"/><use href="#c" x="74" y="558"/><use href="#c" x="13" y="621"/>
<use href="#c" x="502" y="304"/><use href="#c" x="680" y="127"/><use href="#c" x="618" y="186"/><use href="#c" x="561" y="244"/><use href="#c" x="801" y="5"/>
<use href="#c" x="215" y="711"/><use href="#c" x="215" y="800"/><use href="#c" x="300" y="883"/><use href="#c" x="417" y="924"/><use href="#c" x="342" y="995"/><use href="#c" x="510" y="832"/><use href="#c" x="568" y="767"/><use href="#c" x="633" y="703"/><use href="#c" x="768" y="570"/><use href="#c" x="838" y="498"/><use href="#c" x="905" y="435"/>
<use href="#c" x="1020" y="411"/><use href="#c" x="1134" y="411"/><use href="#c" x="1241" y="399"/><use href="#c" x="1241" y="302"/><use href="#c" x="1241" y="469"/><use href="#c" x="1371" y="462"/><use href="#c" x="1371" y="534"/>
<use href="#c" x="1187" y="879"/><use href="#c" x="1132" y="928"/><use href="#c" x="1077" y="981"/><use href="#c" x="1022" y="1034"/><use href="#c" x="969" y="1090"/><use href="#c" x="912" y="1146"/>
<use href="#c" x="655" y="846"/><use href="#c" x="595" y="908"/><use href="#c" x="531" y="972"/><use href="#c" x="458" y="1045"/>
<use href="#c" x="748" y="880"/><use href="#c" x="743" y="968"/><use href="#c" x="725" y="1060"/><use href="#c" x="692" y="1147"/>
<use href="#c" x="96" y="1071"/><use href="#c" x="23" y="1133"/><use href="#c" x="28" y="1017"/><use href="#c" x="-15" y="868"/><use href="#c" x="139" y="977"/><use href="#c" x="325" y="1078"/><use href="#c" x="310" y="1192"/><use href="#c" x="450" y="1190"/>

<!-- Trains -->
<g stroke="#000" stroke-width="1">
<rect x="-15" y="-9" width="30" height="18" rx="1.5" fill="url(#to)" transform="translate(515 429.5) rotate(36)"/>
<rect x="-15" y="-9" width="30" height="18" rx="1.5" fill="url(#to)" transform="translate(593.5 497.5) rotate(47)"/>
<rect x="-15" y="-9" width="30" height="18" rx="1.5" fill="url(#to)" transform="translate(663.5 590) rotate(60)"/>
<rect x="-15" y="-9" width="30" height="18" rx="1.5" fill="url(#to)" transform="translate(719 717) rotate(71)"/>
<rect x="-15" y="-9" width="30" height="18" rx="1.5" fill="url(#tg)" transform="translate(782 721) rotate(-46)"/>
<rect x="-15" y="-9" width="30" height="18" rx="1.5" fill="url(#tg)" transform="translate(866 634) rotate(-45)"/>
<rect x="-15" y="-9" width="32" height="18" rx="1.5" fill="url(#tg)" transform="translate(1005 550) rotate(-28)"/>
<rect x="-16" y="-9.5" width="32" height="19" rx="1.5" fill="url(#tg)" transform="translate(1120.5 532)"/>
<rect x="-15" y="-9" width="30" height="18" rx="1.5" fill="url(#tg)" transform="translate(1217 550) rotate(60)"/>
<rect x="-16" y="-9.5" width="32" height="19" rx="1.5" fill="url(#tg)" transform="translate(1421 617.5)"/>
<rect x="-15" y="-9" width="30" height="18" rx="1.5" fill="url(#tp)" transform="translate(391 413) rotate(-43)"/>
<rect x="-15" y="-9" width="30" height="18" rx="1.5" fill="url(#tp)" transform="translate(306 501) rotate(-45)"/>
<rect x="-15" y="-9" width="30" height="18" rx="1.5" fill="url(#tp)" transform="translate(237 585) rotate(-60)"/>
</g>

<!-- Coloured stations -->
<use href="#co" x="434" y="372.5"/><use href="#co" x="553" y="456.5"/><use href="#co" x="632" y="536"/><use href="#co" x="693" y="640"/>
<use href="#cp" x="343" y="459"/><use href="#cp" x="264" y="544"/><use href="#cp" x="215" y="627"/>
<use href="#cg" x="736.5" y="769"/><use href="#cg" x="823" y="677"/><use href="#cg" x="907" y="593"/><use href="#cg" x="1044" y="533"/><use href="#cg" x="1179" y="532"/><use href="#cg" x="1371" y="617"/><use href="#cg" x="1472" y="616"/>

<!-- Rings -->
<g transform="translate(434 372.5)"><use href="#arc" stroke="#2e2e2e" stroke-width="10"/><use href="#arc" stroke="url(#rp)" stroke-width="7.5"/><circle cx="-16.5" cy="27" r="6" fill="#8a50d8" stroke="#333" stroke-width="1.3"/></g>
<g transform="translate(736.5 769)"><use href="#arc" stroke="#2e2e2e" stroke-width="10"/><use href="#arc" stroke="url(#ry)" stroke-width="7.5"/><circle cx="-16.5" cy="27" r="6" fill="#cc8e08" stroke="#333" stroke-width="1.3"/></g>
<g transform="translate(1179 532)"><use href="#arc" stroke="#2e3e2e" stroke-width="10"/><use href="#arc" stroke="url(#rn)" stroke-width="7.5"/><circle cx="-16.5" cy="27" r="6" fill="#4c9a42" stroke="#333" stroke-width="1.3"/></g>

<!-- Time box -->
<rect x="134" y="48" width="208" height="69" rx="4" fill="#5f5f5f" fill-opacity=".75" stroke="#ccc" stroke-width="1.2"/>
<g style="font-size:42px;font-variant:small-caps">
<text x="165.5" y="102" fill="#000" textLength="153" lengthAdjust="spacingAndGlyphs">55 Mins</text>
<text x="163" y="99" fill="url(#tt)" textLength="153" lengthAdjust="spacingAndGlyphs">55 Mins</text>
</g>

<!-- Top-right button -->
<circle cx="1396.5" cy="88" r="44" fill="#000" fill-opacity=".5" filter="url(#b)"/>
<circle cx="1395" cy="86.5" r="43.5" fill="#303030" stroke="#000" stroke-width="1.5"/>
<circle cx="1395" cy="86.5" r="38.5" fill="#4d4d4d"/>
<g fill="none" stroke="url(#ic)" stroke-width="4.8">
<circle cx="1395" cy="70.5" r="7.7"/><circle cx="1379" cy="86.5" r="7.7"/><circle cx="1411" cy="86" r="7.7"/><circle cx="1394" cy="102.5" r="7.7"/>
</g>

<!-- Settings button -->
<circle cx="173" cy="1029" r="43" fill="#474747" fill-opacity=".93"/>
<g fill="none" stroke="#1f1f1f" stroke-width="8" stroke-linecap="round" transform="translate(.5 1.2)"><path d="M153 1014.5H193M153 1029H193M153 1044.5H193"/></g>
<g stroke="url(#sl)" stroke-width="5.5" stroke-linecap="round"><path d="M153 1014.5H193M153 1029H193M153 1044.5H193" fill="none"/></g>
<g fill="url(#sl)" stroke="#222" stroke-width="1"><circle cx="166" cy="1014.5" r="6.3"/><circle cx="179" cy="1029" r="6.3"/><circle cx="166" cy="1044.5" r="6.3"/></g>
<g fill="#333"><circle cx="166" cy="1014.5" r="1.7"/><circle cx="179" cy="1029" r="1.7"/><circle cx="166" cy="1044.5" r="1.7"/></g>

<!-- Refresh button -->
<circle cx="302.5" cy="1029" r="43" fill="#474747" fill-opacity=".93"/>
<g fill="none" stroke="#222" stroke-width="6.5" transform="translate(.5 1)">
<path d="M288 1014Q298 1007 308 1009Q320 1012 321 1025V1030"/>
<path d="M284 1034Q285 1045 294 1049Q305 1052 316 1042"/>
</g>
<g fill="none" stroke="url(#rf)" stroke-width="5">
<path d="M288 1014Q298 1007 308 1009Q320 1012 321 1025V1030"/>
<path d="M284 1034Q285 1045 294 1049Q305 1052 316 1042"/>
</g>
<path d="M280 1031L285 1014L294 1027Z" fill="url(#rf)"/>
<path d="M314 1027L325 1028L319 1042Z" fill="url(#rf)"/>

<!-- Zoom buttons -->
<circle cx="1265" cy="1029" r="43" fill="#555"/>
<circle cx="1395" cy="1029" r="43" fill="#555"/>
<path d="M1241.5 1030.5H1289.5" stroke="#262626" stroke-width="7.5" stroke-linecap="round"/>
<path d="M1241.5 1029H1289.5" stroke="url(#mi)" stroke-width="5" stroke-linecap="round"/>
<path d="M1371.5 1030.5H1419M1395.5 1007V1054" stroke="#333" stroke-width="8" stroke-linecap="round"/>
<path d="M1371.5 1029H1418.5M1395 1006V1052" stroke="url(#pl)" stroke-width="6" stroke-linecap="round" fill="none"/>
<text x="1288" y="1067" style="font-size:30px;fill:#333" textLength="44" lengthAdjust="spacingAndGlyphs">LRT</text>
</svg>
</body></html>
